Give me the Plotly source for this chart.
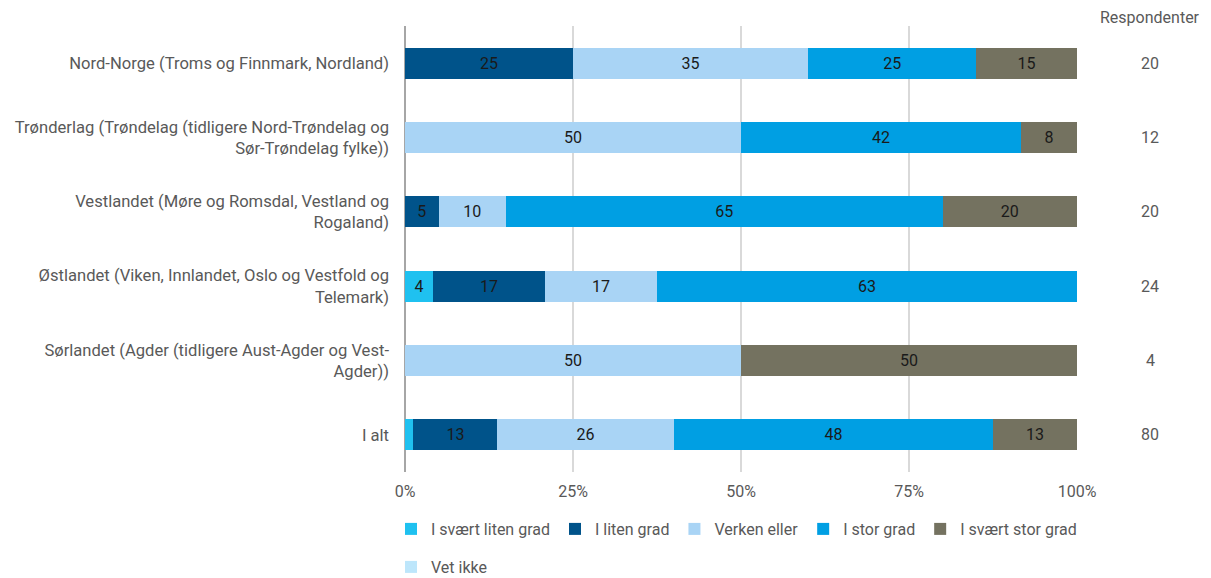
import plotly.graph_objects as go

categories = [
    "Nord-Norge (Troms og Finnmark, Nordland)",
    "Trønderlag (Trøndelag (tidligere Nord-Trøndelag og<br>Sør-Trøndelag fylke))",
    "Vestlandet (Møre og Romsdal, Vestland og<br>Rogaland)",
    "Østlandet (Viken, Innlandet, Oslo og Vestfold og<br>Telemark)",
    "Sørlandet (Agder (tidligere Aust-Agder og Vest-<br>Agder))",
    "I alt",
]
respondents = [20, 12, 20, 24, 4, 80]

series_names = ["I svært liten grad", "I liten grad", "Verken eller", "I stor grad", "I svært stor grad", "Vet ikke"]
svaert_liten = [0, 0, 0, 4.17, 0, 1.25]
liten = [25, 0, 5, 16.67, 0, 12.5]
verken = [35, 50, 10, 16.67, 50, 26.25]
stor = [25, 41.67, 65, 62.5, 0, 47.5]
svaert_stor = [15, 8.33, 20, 0, 50, 12.5]
vet_ikke = [0, 0, 0, 0, 0, 0]
series_values = [svaert_liten, liten, verken, stor, svaert_stor, vet_ikke]
colors = ["#1fc1f0", "#00538a", "#a9d4f5", "#009fe3", "#747260", "#bde6fb"]
tick_vals = [0, 25, 50, 75, 100]
tick_text = ["0%", "25%", "50%", "75%", "100%"]

font = "Roboto"
grey = "#595959"
OFF = 8  # page body margin
W, H = 1211 - OFF, 578 - OFF
L, T = 405 - OFF, 26 - OFF
PR, PB = 1077 - OFF, 472 - OFF
R, B = W - PR, H - PB
pw, ph = PR - L, PB - T

fig = go.Figure()
for name, vals, col in zip(series_names, series_values, colors):
    texts = [f"{v + 1e-9:.0f}" if v >= 2 else "" for v in vals]
    fig.add_trace(go.Bar(
        y=categories, x=vals, name=name, orientation="h",
        marker=dict(color=col, line=dict(width=0)),
        text=texts, textposition="inside", insidetextanchor="middle",
        textfont=dict(color="#1a1a1a", size=16, family=font),
        hoverinfo="x+name",
        legend="legend2" if name == "Vet ikke" else "legend",
    ))

resp_x = (1150 - OFF - L) / pw
for cat, r in zip(categories, respondents):
    fig.add_annotation(x=resp_x, xref="paper", y=cat, yref="y", text=str(r),
                       showarrow=False, xanchor="center",
                       font=dict(size=16, color=grey, family=font))
fig.add_annotation(x=resp_x, xref="paper", y=(PB - (17 - OFF)) / ph, yref="paper",
                   yanchor="middle", text="Respondenter", showarrow=False, xanchor="center",
                   font=dict(size=16, color=grey, family=font))

leg_common = dict(orientation="h", xref="paper", x=-14 / pw, xanchor="left",
                  yref="paper", yanchor="middle",
                  font=dict(size=16, color=grey, family=font),
                  traceorder="normal", bgcolor="rgba(0,0,0,0)")

fig.update_layout(
    barmode="stack", bargap=0.58,
    width=W, height=H,
    margin=dict(l=L, r=R, t=T, b=B, autoexpand=False),
    plot_bgcolor="white", paper_bgcolor="white",
    font=dict(family=font, size=15, color=grey),
    xaxis=dict(range=[0, 100], tickvals=tick_vals, ticktext=tick_text,
               showgrid=True, gridcolor="#d9d9d9", gridwidth=2,
               zeroline=True, zerolinecolor="#a6a6a6", zerolinewidth=2,
               ticks="", ticklabelstandoff=8,
               tickfont=dict(size=16, color=grey), fixedrange=True),
    yaxis=dict(autorange="reversed", ticks="", ticklabelstandoff=15,
               tickfont=dict(size=16.6, color=grey), showgrid=False),
    legend=dict(leg_common, y=(PB - (529 - OFF)) / ph),
    legend2=dict(leg_common, y=(PB - (567 - OFF)) / ph),
    showlegend=True,
)
fig.write_html("out.html")
